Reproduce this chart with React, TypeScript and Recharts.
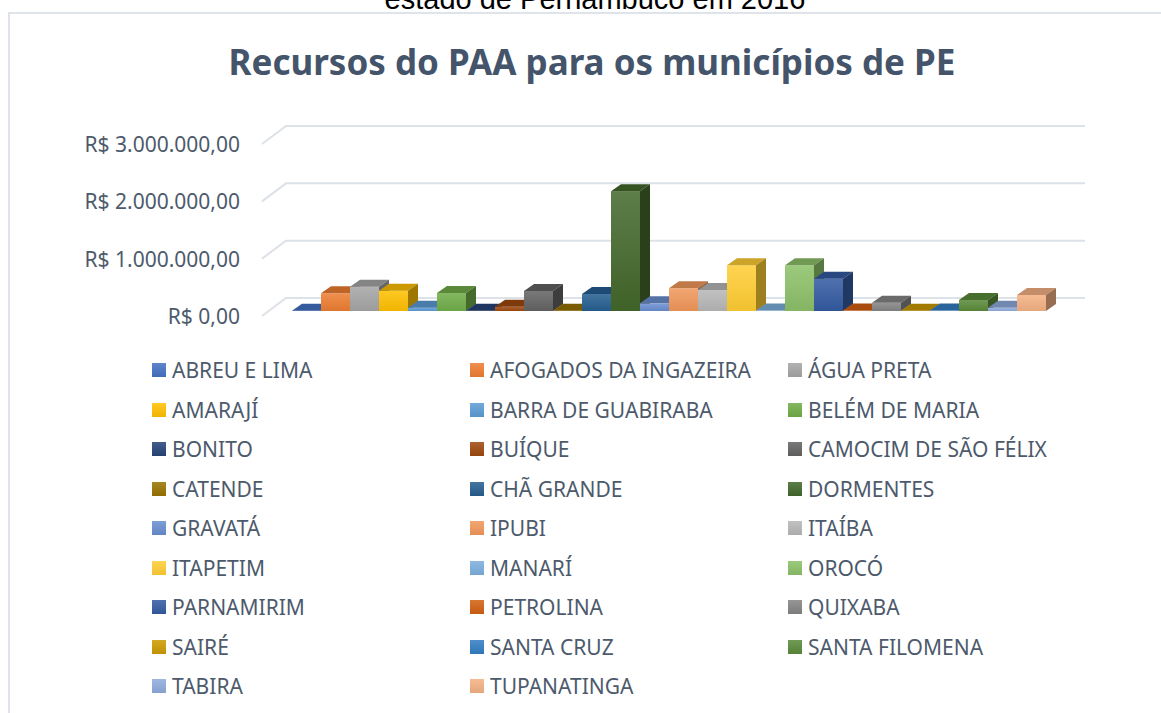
import { BarChart, Bar, XAxis, YAxis, CartesianGrid } from 'recharts'

const MUNICIPIOS = [
  'ABREU E LIMA', 'AFOGADOS DA INGAZEIRA', 'ÁGUA PRETA',
  'AMARAJÍ', 'BARRA DE GUABIRABA', 'BELÉM DE MARIA',
  'BONITO', 'BUÍQUE', 'CAMOCIM DE SÃO FÉLIX',
  'CATENDE', 'CHÃ GRANDE', 'DORMENTES',
  'GRAVATÁ', 'IPUBI', 'ITAÍBA',
  'ITAPETIM', 'MANARÍ', 'OROCÓ',
  'PARNAMIRIM', 'PETROLINA', 'QUIXABA',
  'SAIRÉ', 'SANTA CRUZ', 'SANTA FILOMENA',
  'TABIRA', 'TUPANATINGA',
]

const VALORES = [
  6000, 309000, 424000,
  354000, 58000, 314000,
  6000, 75000, 349000,
  6000, 297000, 2090000,
  134000, 396000, 366000,
  798000, 8000, 798000,
  564000, 10000, 145000,
  5000, 8000, 192000,
  55000, 280000,
]

const CORES = [
  '#4472C4', '#ED7D31', '#A5A5A5',
  '#FFC000', '#5B9BD5', '#70AD47',
  '#264478', '#9E480E', '#636363',
  '#997300', '#255E91', '#43682B',
  '#698ED0', '#F1975A', '#B7B7B7',
  '#FFCD33', '#7CAFDD', '#8CC168',
  '#335AA1', '#D26012', '#848484',
  '#CC9A00', '#327DC2', '#5A8A39',
  '#8FAADC', '#F4B183',
]

const TICKS_Y = [0, 1000000, 2000000, 3000000]

const TEXTO = '#4d5a6c'
const FONTE = '"Noto Sans", "Open Sans", sans-serif'

// profundidade do efeito 3D
const DX = 10
const DY = 7

const dados = [Object.fromEntries([['ano', '2016'], ...MUNICIPIOS.map((m, i) => [m, VALORES[i]])])]

function mix(hex: string, alvo: number, f: number) {
  const n = parseInt(hex.slice(1), 16)
  const c = [(n >> 16) & 255, (n >> 8) & 255, n & 255].map(v => Math.round(v + (alvo - v) * f))
  return `rgb(${c[0]},${c[1]},${c[2]})`
}

const moeda = (v: number) =>
  'R$ ' + v.toLocaleString('pt-BR', { minimumFractionDigits: 2, maximumFractionDigits: 2 })

function Coluna3D(props: any) {
  const { x, y, width: w, height: h, idx } = props
  const cor = CORES[idx]
  return (
    <g>
      <rect x={x} y={y} width={w} height={h} fill={`url(#grad${idx})`} />
      <polygon
        points={`${x},${y} ${x + DX},${y - DY} ${x + w + DX},${y - DY} ${x + w},${y}`}
        fill={mix(cor, 0, 0.2)}
      />
      <polygon
        points={`${x + w},${y} ${x + w + DX},${y - DY} ${x + w + DX},${y + h - DY} ${x + w},${y + h}`}
        fill={mix(cor, 0, 0.38)}
      />
    </g>
  )
}

function TickY(props: any) {
  const { x, y, payload } = props
  return (
    <text x={x} y={y + 5} textAnchor="end" dominantBaseline="central" fill={TEXTO} fontSize={21} fontFamily={FONTE}>
      {moeda(payload.value)}
    </text>
  )
}

function LinhaGrade(props: any) {
  const { x1, y1, x2, index } = props
  return (
    <path
      key={`g${index}`}
      d={`M${x1 - 30},${y1 + 5} L${x1 - 6},${y1 - 13} L${x2 + 39},${y1 - 13}`}
      stroke="#dde1e8"
      strokeWidth={2}
      fill="none"
    />
  )
}

export default function App() {
  return (
    <div style={{ position: 'absolute', left: 0, top: 0, width: 1161, height: 713, overflow: 'hidden', background: '#fff' }}>
      <div
        style={{
          position: 'absolute', left: 0, width: 1190, top: -15.5, lineHeight: '29px', textAlign: 'center',
          fontFamily: '"Liberation Sans", Arial, sans-serif', fontSize: 29, color: '#000',
        }}
      >
        estado de Pernambuco em 2016
      </div>
      <div style={{ position: 'absolute', left: 8, top: 12, width: 1300, height: 900, border: '2px solid #dfe4ea' }} />
      <div
        style={{
          position: 'absolute', left: 0, width: 1184, top: 38, textAlign: 'center',
          fontFamily: FONTE, fontWeight: 700, fontSize: 35, color: '#44546a', lineHeight: '48px',
        }}
      >
        Recursos do PAA para os municípios de PE
      </div>

      <div style={{ position: 'absolute', left: 0, top: 0 }}>
        <BarChart
          width={1161}
          height={713}
          data={dados}
          margin={{ top: 139, right: 115, bottom: 402, left: 0 }}
          barCategoryGap={0}
          barGap={0}
        >
          <defs>
            {CORES.map((c, i) => (
              <linearGradient key={i} id={`grad${i}`} x1="0" y1="0" x2="0" y2="1">
                <stop offset="0%" stopColor={mix(c, 255, 0.14)} />
                <stop offset="100%" stopColor={mix(c, 0, 0.06)} />
              </linearGradient>
            ))}
          </defs>
          <CartesianGrid vertical={false} horizontal={(p: any) => <LinhaGrade {...p} />} />
          <XAxis dataKey="ano" hide />
          <YAxis
            width={292}
            domain={[0, 3000000]}
            ticks={TICKS_Y}
            axisLine={false}
            tickLine={false}
            tickSize={0}
            tickMargin={52}
            tick={<TickY />}
          />
          {MUNICIPIOS.map((m, i) => (
            <Bar
              key={m}
              dataKey={m}
              isAnimationActive={false}
              shape={(p: any) => <Coluna3D {...p} idx={i} />}
            />
          ))}
        </BarChart>
      </div>

      {MUNICIPIOS.map((m, i) => {
        const col = i % 3
        const lin = Math.floor(i / 3)
        return (
          <div
            key={m}
            style={{
              position: 'absolute', left: [152, 470, 788][col], top: 370 + lin * 39.5 - 15, height: 30,
              display: 'flex', alignItems: 'center', gap: 6, fontFamily: FONTE, fontSize: 21, color: TEXTO, whiteSpace: 'nowrap',
            }}
          >
            <span
              style={{
                width: 14, height: 14, display: 'inline-block',
                background: `linear-gradient(${mix(CORES[i], 255, 0.14)}, ${mix(CORES[i], 0, 0.06)})`,
              }}
            />
            {m}
          </div>
        )
      })}
    </div>
  )
}
